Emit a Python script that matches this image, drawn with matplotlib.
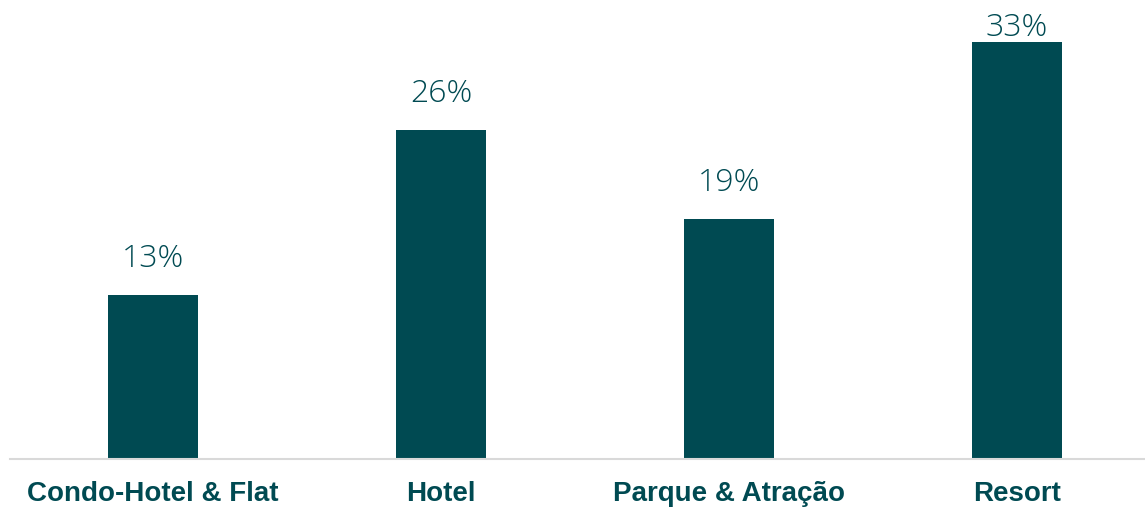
import matplotlib.pyplot as plt

# share by segment
categories = ['Condo-Hotel & Flat', 'Hotel', 'Parque & Atração', 'Resort']
shares = [13, 26, 19, 33]

teal = '#004a52'

fig = plt.figure(figsize=(11.45, 5.07), dpi=100)
ax = fig.add_axes([10 / 1145, 48 / 507, 1135 / 1145, 459 / 507])

x = range(len(categories))
ax.bar(x, shares, width=0.3125, color=teal, zorder=2)

ax.set_xlim(-0.4965, 3.444)
ax.set_ylim(0, 36.3)

# value labels above bars, kept inside the axes
top = ax.get_ylim()[1]
for xi, v in zip(x, shares):
    y = min(v + 2.2, top - 2.85)
    ax.text(xi, y, f'{v}%', ha='center', va='baseline', fontsize=23,
            color=teal, family=['Open Sans', 'DejaVu Sans'], fontweight='light')

ax.set_xticks(list(x))
ax.set_xticklabels(categories, fontsize=20, fontweight='bold', color=teal,
                   family=['Liberation Sans', 'DejaVu Sans'])
ax.tick_params(axis='x', length=0, pad=16)
ax.set_yticks([])

for side in ['top', 'right', 'left']:
    ax.spines[side].set_visible(False)
ax.spines['bottom'].set_color('#d9d9d9')
ax.spines['bottom'].set_linewidth(1.5)

fig.savefig('out.png', dpi=100)
